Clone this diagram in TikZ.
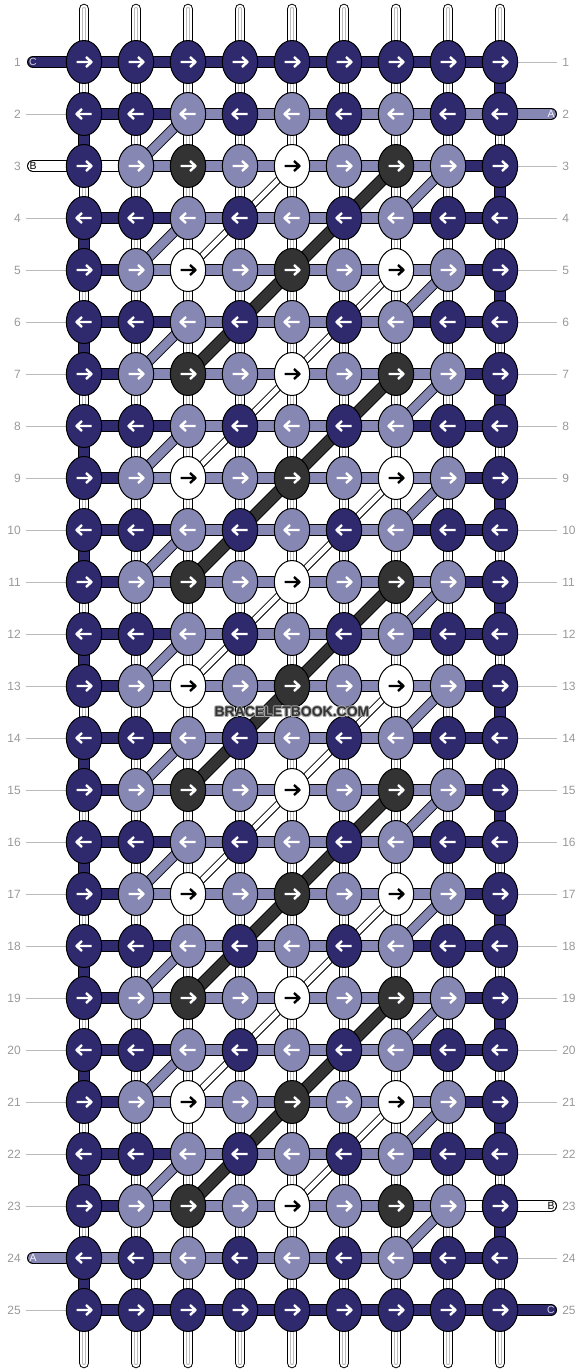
\documentclass[tikz,border=0pt]{standalone}
\usepackage{fontspec}
\setmainfont{Liberation Sans}
\usetikzlibrary{
    shapes.geometric,
    backgrounds,
    positioning
}
\definecolor{navy}{HTML}{2F2A6E}
\definecolor{lilac}{HTML}{8787B3}
\definecolor{coal}{HTML}{333333}
\definecolor{rowgray}{HTML}{999999}
\definecolor{guide}{HTML}{BBBBBB}
\definecolor{markhalo}{HTML}{A8A8A8}
\tikzset{
    knot/.style={ellipse, draw=black, line width=0.75pt, minimum width=26.5pt, minimum height=32.25pt, inner sep=0pt},
    knotarrow/.style={line width=1.8pt, line join=round},
    band/.style={draw=black, double=#1, line width=0.75pt, double distance=7.5pt},
    diag/.style={draw=black, double=#1, line width=0.75pt, double distance=6.4pt},
    thickdiag/.style={draw=black, double=coal, line width=0.75pt, double distance=8pt},
    thindiag/.style={draw=black, double=white, line width=0.75pt, double distance=3.8pt},
    basestrand/.style={draw=black, double=white, line width=0.75pt, double distance=6.4pt, line cap=round,
        postaction={draw=guide, double=white, line width=0.6pt, double distance=1.9pt, line cap=round}},
    guideline/.style={draw=guide, line width=0.75pt},
    rownum/.style={text=rowgray, font=\fontsize{9}{10}\selectfont, inner xsep=3.75pt, inner ysep=0pt},
    tailtag/.style={font=\fontsize{7.8}{9}\selectfont, inner sep=0pt},
    watermark/.style={font=\bfseries\fontsize{10.5}{12}\selectfont, inner sep=0pt}
}
% knot colour / arrow colour per row
\def\rowN{navy/white,navy/white,navy/white,navy/white,navy/white,navy/white,navy/white,navy/white,navy/white}
\def\rowE{navy/white,navy/white,lilac/white,navy/white,lilac/white,navy/white,lilac/white,navy/white,navy/white}
\def\rowA{navy/white,lilac/white,coal/white,lilac/white,white/black,lilac/white,coal/white,lilac/white,navy/white}
\def\rowB{navy/white,lilac/white,white/black,lilac/white,coal/white,lilac/white,white/black,lilac/white,navy/white}
% strand colour between knots per row
\def\segN{navy,navy,navy,navy,navy,navy,navy,navy}
\def\segE{navy,navy,lilac,lilac,lilac,lilac,navy,navy}
\def\segO{navy,lilac,lilac,lilac,lilac,lilac,lilac,navy}
\def\segTwo{navy,navy,lilac,lilac,lilac,lilac,lilac,lilac}
\def\segThree{white,lilac,lilac,lilac,lilac,lilac,lilac,navy}
\def\segTwentyThree{navy,lilac,lilac,lilac,lilac,lilac,lilac,white}
\def\segTwentyFour{lilac,lilac,lilac,lilac,lilac,lilac,navy,navy}

\begin{document}
\begin{tikzpicture}[x=0.75pt, y=-0.75pt]
    \useasboundingbox (0,0) rectangle (584,1372);
    % knots
    \foreach \r in {1,...,25} {
        \pgfmathtruncatemacro\ry{62+52*(\r-1)}
        \pgfmathtruncatemacro\rowmod{mod(\r,4)}
        \ifodd\r
            \ifnum\rowmod=3 \let\rowcols\rowA \else \let\rowcols\rowB \fi
            \def\dir{1}
        \else
            \let\rowcols\rowE
            \def\dir{-1}
        \fi
        \ifnum\r=1 \let\rowcols\rowN \fi
        \ifnum\r=25 \let\rowcols\rowN \fi
        \foreach \kc/\ac [count=\c] in \rowcols {
            \pgfmathtruncatemacro\cx{84+52*(\c-1)}
            \node[knot, fill=\kc] (k-\c-\r) at (\cx,\ry) {};
            \begin{scope}[shift={(\cx,\ry)}, xscale=\dir]
                \draw[knotarrow, draw=\ac] (-7.5,0) -- (7,0) (2,-5) -- (7.5,0) -- (2,5);
            \end{scope}
        }
        \node[rownum, anchor=east] (numL-\r) at (26,\ry) {\r};
        \node[rownum, anchor=west] (numR-\r) at (557,\ry) {\r};
    }
    \begin{pgfonlayer}{background}
        % base strands
        \foreach \c in {1,...,9} {
            \path (k-\c-1.center) ++(0,-53) coordinate (top-\c);
            \path (k-\c-25.center) ++(0,53) coordinate (bot-\c);
            \draw[basestrand] (top-\c) -- (bot-\c);
        }
        \foreach \r [evaluate=\r as \n using int(\r+1)] in {2,4,...,24}
            \draw[band=navy] (k-1-\r.center) -- (k-1-\n.center);
        \foreach \r [evaluate=\r as \n using int(\r+1)] in {1,3,...,23}
            \draw[band=navy] (k-9-\r.center) -- (k-9-\n.center);
        % rows
        \foreach \r in {1,...,25} {
            \ifodd\r \let\segcols\segO \else \let\segcols\segE \fi
            \ifnum\r=1 \let\segcols\segN \fi
            \ifnum\r=25 \let\segcols\segN \fi
            \ifnum\r=2 \let\segcols\segTwo \fi
            \ifnum\r=3 \let\segcols\segThree \fi
            \ifnum\r=23 \let\segcols\segTwentyThree \fi
            \ifnum\r=24 \let\segcols\segTwentyFour \fi
            \foreach \sc [count=\c] in \segcols {
                \pgfmathtruncatemacro\n{\c+1}
                \draw[band=\sc] (k-\c-\r.center) -- (k-\n-\r.center);
            }
        }
        % loose ends
        \foreach \r/\sc/\nm in {1/navy/C, 3/white/B, 24/lilac/A} {
            \path (k-1-\r.center) ++(-51,0) coordinate (tail-\nm-in);
            \draw[band=\sc, line cap=round] (tail-\nm-in) -- (k-1-\r.center);
        }
        \foreach \r/\sc/\nm in {2/lilac/A, 23/white/B, 25/navy/C} {
            \path (k-9-\r.center) ++(51,0) coordinate (tail-\nm-out);
            \draw[band=\sc, line cap=round] (k-9-\r.center) -- (tail-\nm-out);
        }
        % diagonals
        \foreach \r [evaluate=\r as \n using int(\r+1)] in {2,4,...,22}
            \draw[diag=lilac] (k-3-\r.center) -- (k-2-\n.center);
        \foreach \r [evaluate=\r as \n using int(\r+1)] in {3,5,...,23}
            \draw[diag=lilac] (k-8-\r.center) -- (k-7-\n.center);
        \foreach \r [evaluate=\r as \n using int(\r+4)] in {3,7,11,15,19}
            \draw[thickdiag] (k-7-\r.center) -- (k-3-\n.center);
        \draw[thindiag] (k-5-3.center) -- (k-3-5.center);
        \foreach \r [evaluate=\r as \n using int(\r+4)] in {5,9,13,17}
            \draw[thindiag] (k-7-\r.center) -- (k-3-\n.center);
        \draw[thindiag] (k-7-21.center) -- (k-5-23.center);
        % guides to the row numbers
        \foreach \r in {2,4,5,...,23,25}
            \draw[guideline] (numL-\r) -- (k-1-\r);
        \foreach \r in {1,3,4,...,22,24}
            \draw[guideline] (k-9-\r) -- (numR-\r);
    \end{pgfonlayer}
    \node[tailtag, text=navy!20] (tag-C-in) at (tail-C-in) {C};
    \node[tailtag, text=black] (tag-B-in) at (tail-B-in) {B};
    \node[tailtag, text=white!90!lilac] (tag-A-in) at (tail-A-in) {A};
    \node[tailtag, text=white!90!lilac] (tag-A-out) at (tail-A-out) {A};
    \node[tailtag, text=black] (tag-B-out) at (tail-B-out) {B};
    \node[tailtag, text=navy!20] (tag-C-out) at (tail-C-out) {C};
    % watermark with a light rim
    \foreach \dx/\dy [count=\i] in {-0.9/0, 0.9/0, 0/-0.9, 0/0.9, -0.7/-0.7, 0.7/0.7, -0.7/0.7, 0.7/-0.7}
        \node[watermark, text=markhalo] (halo-\i) at (292+\dx,712+\dy) {BRACELETBOOK.COM};
    \node[watermark, text=coal] (mark) at (292,712) {BRACELETBOOK.COM};
\end{tikzpicture}
\end{document}
